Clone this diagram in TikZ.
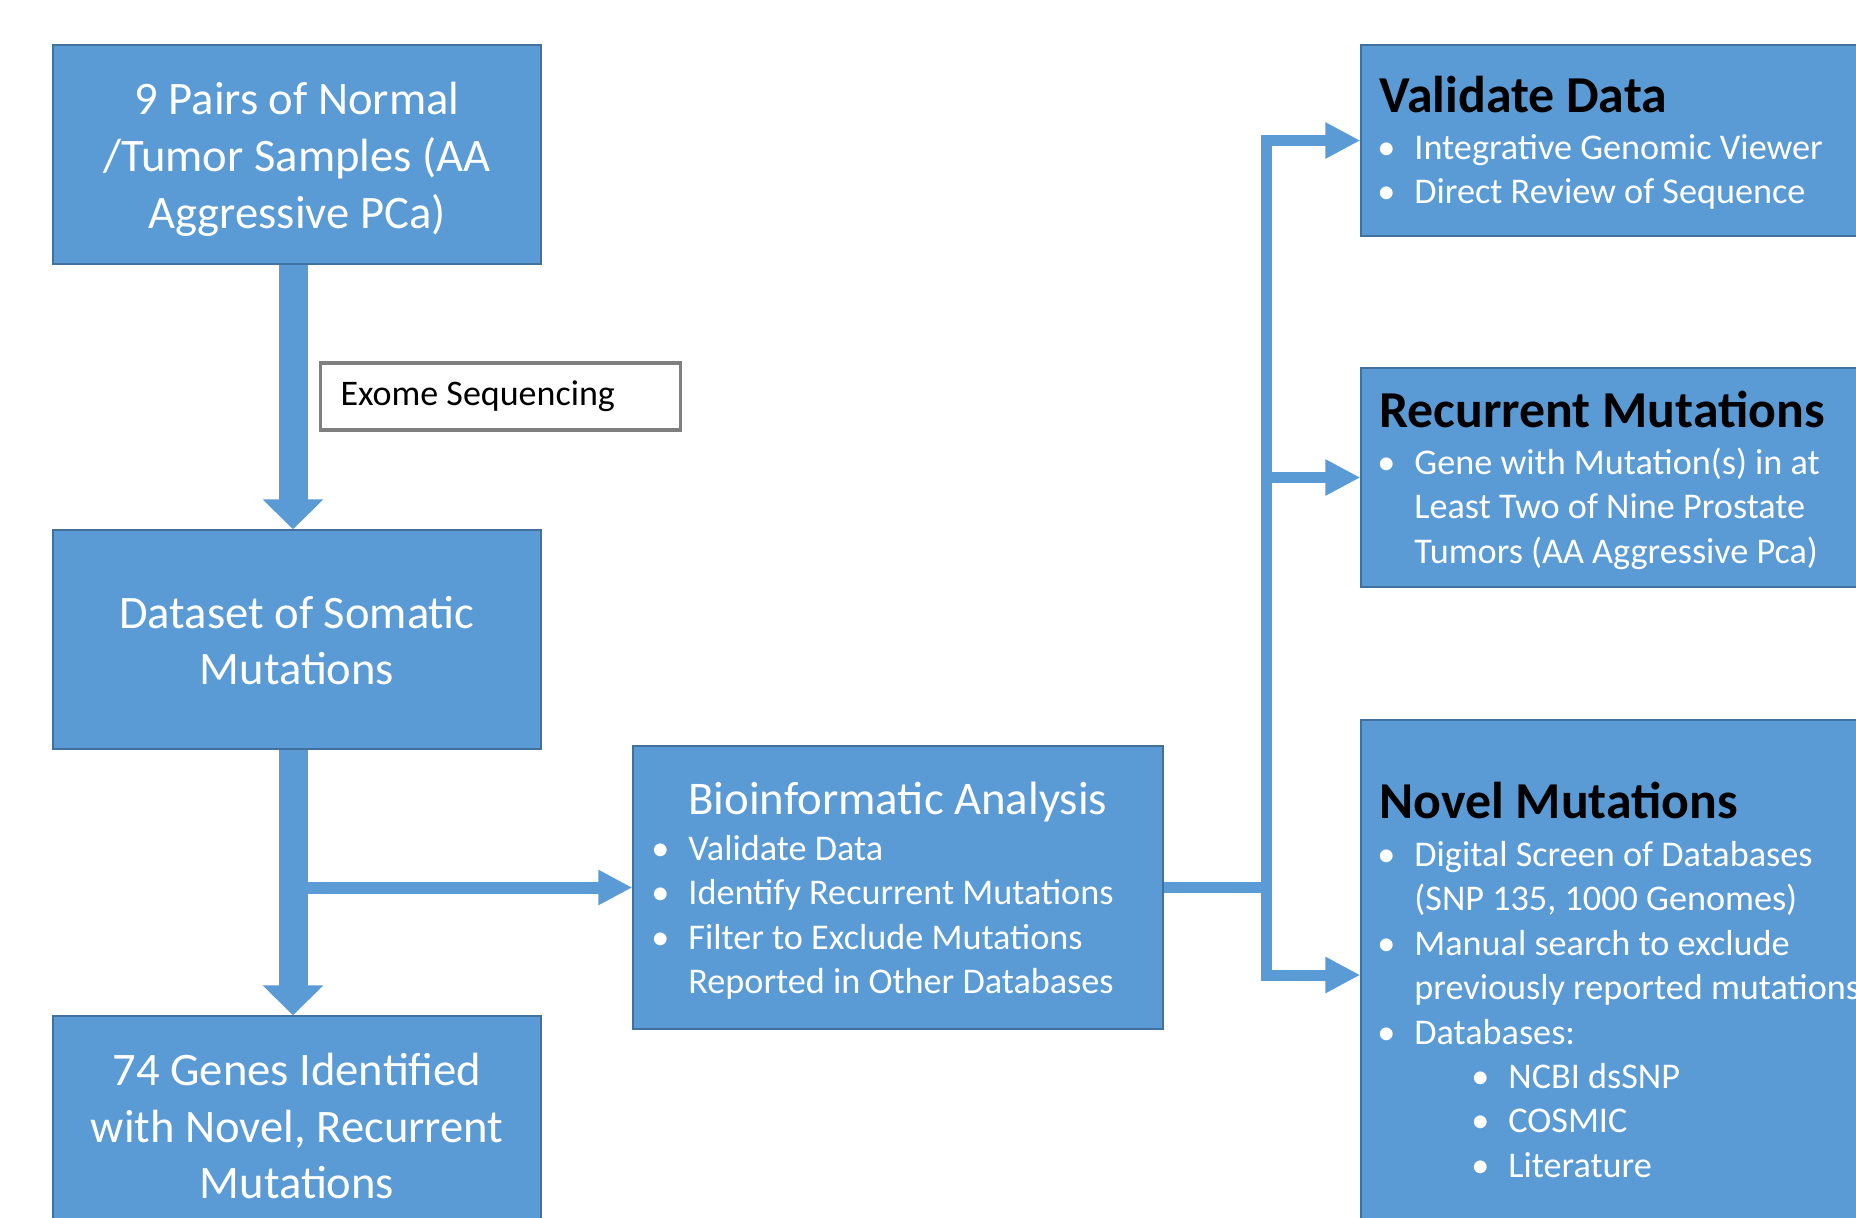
\documentclass[tikz,border=0pt]{standalone}
\usepackage{fontspec}
\setmainfont{Carlito}
\usetikzlibrary{arrows.meta}
\definecolor{boxblue}{HTML}{5B9BD5}
\definecolor{boxedge}{HTML}{41719C}
\definecolor{lblgray}{HTML}{7F7F7F}
\newcommand{\bitem}[1]{\makebox[18.5pt][l]{\textbullet}#1}
\newcommand{\bcont}[1]{\hspace*{18.5pt}#1}
\newcommand{\bsub}[1]{\hspace*{47pt}\makebox[18.5pt][l]{\textbullet}#1}
\tikzset{
  bluebox/.style={draw=boxedge, line width=0.7pt, fill=boxblue, inner sep=0pt},
  bigtext/.style={text=white, align=center, inner sep=0pt, font=\fontsize{23.3pt}{28.4pt}\selectfont},
  headtext/.style={text=black, inner sep=0pt, font=\bfseries\fontsize{25.9pt}{30pt}\selectfont},
  biohead/.style={text=white, inner sep=0pt, font=\fontsize{23.4pt}{28pt}\selectfont},
  listtext/.style={text=white, inner sep=0pt, font=\fontsize{18.1pt}{22.2pt}\selectfont},
  lblbox/.style={draw=lblgray, line width=1.8pt, fill=white, text=black,
    inner xsep=10pt, inner ysep=0pt, minimum height=33.5pt,
    font=\fontsize{18pt}{22pt}\selectfont},
  fatarrow/.style={draw=boxblue, line width=14.5pt, -{Triangle[width=29.5pt,length=15pt]}},
  midarrow/.style={draw=boxblue, line width=6pt, -{Triangle[width=16.5pt,length=17pt]}},
  thinline/.style={draw=boxblue, line width=5.5pt, line join=miter},
  thinarrow/.style={draw=boxblue, line width=5.5pt, line join=miter, -{Triangle[width=17pt,length=17.5pt]}}
}
\begin{document}
\begin{tikzpicture}[x=0.5pt, y=-0.5pt]
\useasboundingbox (0,0) rectangle (1856,1217);
\fill[white] (0,0) rectangle (1856,1217);
\clip (0,0) rectangle (1856,1217);

% left column boxes
\node[bluebox, minimum width=244pt, minimum height=109.5pt] (b1) at (297,154.5) {};
\node[bigtext] (b1t) at (297,159.5) {9 Pairs of Normal\\/Tumor Samples (AA\\Aggressive PCa)};
\node[bluebox, minimum width=244pt, minimum height=109.5pt] (b2) at (297,639.5) {};
\node[bigtext] (b2t) at (297,640.5) {Dataset of Somatic\\Mutations};
\node[bluebox, minimum width=244pt, minimum height=109.5pt] (b3) at (297,1125.5) {};
\node[bigtext] (b3t) at (297,1126) {74 Genes Identified\\with Novel, Recurrent\\Mutations};

% bioinformatic analysis box
\node[bluebox, minimum width=265pt, minimum height=141.5pt] (bio) at (898,887.5) {};
\node[biohead, anchor=base west] (bioh) at (688,814) {Bioinformatic Analysis};
\node[listtext, anchor=base west] (biol) at (651,860.5) {\parbox[t]{300pt}{%
  \bitem{Validate Data}\\
  \bitem{Identify Recurrent Mutations}\\
  \bitem{Filter to Exclude Mutations}\\
  \bcont{Reported in Other Databases}}};

% right column boxes
\node[bluebox, minimum width=274.5pt, minimum height=95.5pt] (val) at (1635.5,140.5) {};
\node[headtext, anchor=base west] (valh) at (1379,112) {Validate Data};
\node[listtext, anchor=base west] (vall) at (1377,159.5) {\parbox[t]{300pt}{%
  \bitem{Integrative Genomic Viewer}\\
  \bitem{Direct Review of Sequence}}};

\node[bluebox, minimum width=274.5pt, minimum height=109.5pt] (rec) at (1635.5,477.5) {};
\node[headtext, anchor=base west] (rech) at (1379,427) {Recurrent Mutations};
\node[listtext, anchor=base west] (recl) at (1377,474.5) {\parbox[t]{300pt}{%
  \bitem{Gene with Mutation(s) in at}\\
  \bcont{Least Two of Nine Prostate}\\
  \bcont{Tumors (AA Aggressive Pca)}}};

\node[bluebox, minimum width=274.5pt, minimum height=255pt] (nov) at (1635.5,975) {};
\node[headtext, anchor=base west] (novh) at (1379,818.5) {Novel Mutations};
\node[listtext, anchor=base west] (novl) at (1377,866.5) {\parbox[t]{300pt}{%
  \bitem{Digital Screen of Databases}\\
  \bcont{(SNP 135, 1000 Genomes)}\\
  \bitem{Manual search to exclude}\\
  \bcont{previously reported mutations}\\
  \bitem{Databases:}\\
  \bsub{NCBI dsSNP}\\
  \bsub{COSMIC}\\
  \bsub{Literature}}};

% left arrows
\draw[fatarrow] ([xshift=-2pt]b1.south) -- ([xshift=-2pt]b2.north);
\coordinate (br) at ([xshift=-2pt]b2.south |- bio.west);
\draw[midarrow] (br) -- (bio.west);
\draw[fatarrow] ([xshift=-2pt]b2.south) -- ([xshift=-2pt]b3.north);

% exome sequencing label
\node[lblbox] (ex) at (500.5,396.5) {\makebox[160pt][l]{Exome Sequencing}};

% right connectors
\coordinate (jn) at (1266,887.5);
\draw[thinline] (bio.east) -- (jn);
\draw[thinarrow] (jn) |- (val.west);
\draw[thinarrow] (jn) |- (nov.west);
\draw[thinarrow] (jn |- rec.west) -- (rec.west);
\end{tikzpicture}
\end{document}
